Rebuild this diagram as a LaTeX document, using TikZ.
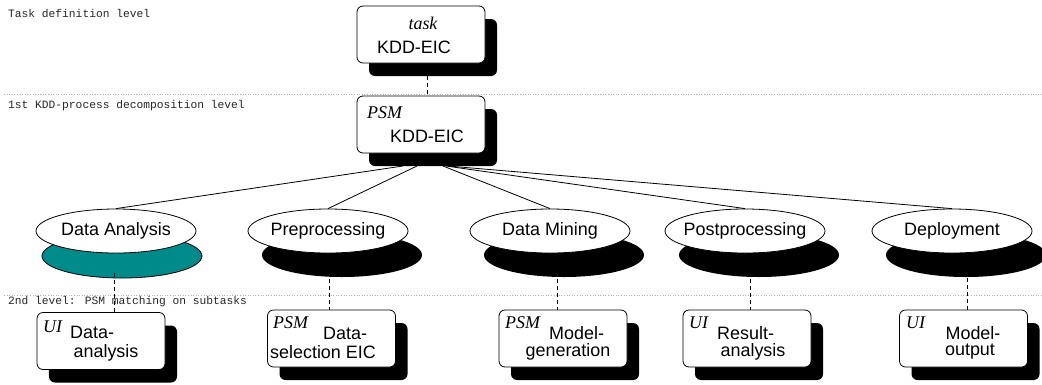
\documentclass[tikz,border=0pt]{standalone}
\usepackage{fontspec}
\setmainfont{Liberation Sans}
\newfontfamily\serifit{Liberation Serif}
\newfontfamily\monof{Liberation Mono}
\usetikzlibrary{shapes.geometric,shadows}
\definecolor{tealsh}{RGB}{0,139,139}
\begin{document}
\begin{tikzpicture}[x=1bp,y=-1bp,
  box/.style={draw, rounded corners=6bp, fill=white, minimum width=128bp, minimum height=57bp,
    inner sep=0pt, line width=0.8bp,
    drop shadow={shadow xshift=12bp, shadow yshift=-13bp, fill=black, opacity=1}},
  ell/.style={ellipse, draw, fill=white, minimum width=160bp, minimum height=44bp,
    inner sep=0pt, line width=0.8bp, font=\fontsize{18}{20}\selectfont},
  blksh/.style={drop shadow={shadow xshift=14bp, shadow yshift=-24bp, fill=black, opacity=1}},
  tealshadow/.style={drop shadow={shadow xshift=6bp, shadow yshift=-25bp, fill=tealsh, draw=black, line width=0.8bp, opacity=1}},
  txt/.style={inner sep=0pt, font=\fontsize{18}{20}\selectfont},
  itx/.style={inner sep=0pt, font=\serifit\itshape\fontsize{18}{20}\selectfont},
  lab/.style={inner sep=0pt, anchor=west, font=\monof\fontsize{11.3}{12}\selectfont, text=black!85},
  dotline/.style={gray!60, dotted, line width=0.6bp},
  dashline/.style={black, dash pattern=on 4bp off 3bp, line width=0.8bp},
  conn/.style={black, line width=0.8bp}]
\useasboundingbox (0,0) rectangle (1042,384);

% level separators
\coordinate (s1a) at (4,94);   \coordinate (s1b) at (1042,94);
\coordinate (s2a) at (4,295);  \coordinate (s2b) at (1042,295);
\draw[dotline] (s1a) -- (s1b);
\draw[dotline] (s2a) -- (s2b);

% level labels
\node[lab] (l1) at (8,13) {Task definition level};
\node[lab] (l2) at (8,106) {1st KDD-process decomposition level};

% top boxes
\node[box] (task) at (421,34.5) {};
\node[itx] (taskt) at (423,23) {task};
\node[txt] (taskk) at (414,47) {KDD-EIC};

\node[box] (psm) at (421,124.5) {};
\node[itx, anchor=west] (psmt) at (367,113) {PSM};
\node[txt] (psmk) at (427,136) {KDD-EIC};

\coordinate (td) at (427,76);
\draw[dashline] (td) -- (td |- psm.north);

% subtasks
\node[ell, tealshadow] (da) at (116,231) {\makebox[0pt]{Data Analysis}};
\node[ell, blksh] (pp) at (328,231) {\makebox[0pt]{Preprocessing}};
\node[ell, blksh] (dm) at (550,231) {\makebox[0pt]{Data Mining}};
\node[ell, blksh] (pop) at (745,231) {\makebox[0pt]{Postprocessing}};
\node[ell, blksh] (dep) at (952,231) {\makebox[0pt]{Deployment}};

% fan connectors
\coordinate (o1) at (403,166);
\coordinate (o2) at (417,166);
\coordinate (o3) at (443,166);
\coordinate (o4) at (446,166);
\coordinate (o5) at (448,166);
\draw[conn] (o1) -- (da.north);
\draw[conn] (o2) -- (pp.north);
\draw[conn] (o3) -- (dm.north);
\draw[conn] (o4) -- (pop.north);
\draw[conn] (o5) -- (dep.north);

\node[lab] (l3) at (8,302) {2nd level: PSM matching on subtasks};

% PSM boxes
\node[box] (b1) at (101,341) {};
\node[itx, anchor=west] (b1a) at (43,327) {UI};
\node[txt, anchor=west] (b1b) at (70,332) {Data-};
\node[txt] (b1c) at (106,353) {analysis};

\node[box] (b2) at (331.5,338.5) {};
\node[itx, anchor=west] (b2a) at (273,323) {PSM};
\node[txt, anchor=west] (b2b) at (323,333) {Data-};
\node[txt] (b2c) at (323,352) {selection EIC};

\node[box] (b3) at (563,338.5) {};
\node[itx, anchor=west] (b3a) at (505,323) {PSM};
\node[txt, anchor=west] (b3b) at (549,333) {Model-};
\node[txt] (b3c) at (568,352) {generation};

\node[box] (b4) at (747,338.5) {};
\node[itx, anchor=west] (b4a) at (689,323) {UI};
\node[txt, anchor=west] (b4b) at (717,333) {Result-};
\node[txt] (b4c) at (753,352) {analysis};

\node[box] (b5) at (963.5,338.5) {};
\node[itx, anchor=west] (b5a) at (906,323) {UI};
\node[txt] (b5b) at (973,333) {Model-};
\node[txt] (b5c) at (970,352) {output};

% dashed matching lines
\coordinate (m1) at (114,273);
\coordinate (m2) at (329,279);
\coordinate (m3) at (557,279);
\coordinate (m4) at (750,279);
\coordinate (m5) at (967,278);
\draw[dashline] (m1) -- (m1 |- b1.north);
\draw[dashline] (m2) -- (m2 |- b2.north);
\draw[dashline] (m3) -- (m3 |- b3.north);
\draw[dashline] (m4) -- (m4 |- b4.north);
\draw[dashline] (m5) -- (m5 |- b5.north);
\end{tikzpicture}
\end{document}
